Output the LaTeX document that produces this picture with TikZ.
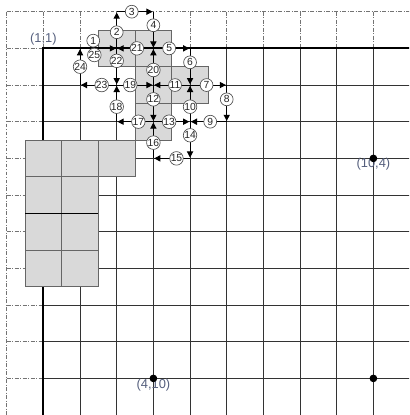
\documentclass[tikz,border=0pt]{standalone}
\usepackage{fontspec}
\setmainfont{Liberation Sans}
\usetikzlibrary{arrows.meta}
\definecolor{lbl}{RGB}{85,95,125}
\begin{document}
\begin{tikzpicture}[x=1cm,y=-1cm,
  dashdot/.style={draw=black!55, line width=0.6pt, dash pattern=on 3pt off 1.2pt on 0.8pt off 1.2pt},
  gline/.style={draw=black!80, line width=0.8pt},
  thickline/.style={draw=black, line width=1.6pt},
  cell/.style={fill=black!15, draw=black!60, line width=0.6pt},
  arr/.style={draw=black, line width=0.8pt, -{Triangle[length=4.8pt,width=4.8pt]}, shorten >=0.6pt},
  num/.style={circle, draw=black!70, fill=white, line width=0.5pt, inner sep=0pt, minimum size=0.35cm, font=\fontsize{8}{8}\selectfont, text=black!85},
  lab/.style={font=\fontsize{10}{12}\selectfont, text=lbl, inner sep=0pt},
  dot/.style={circle, fill=black, inner sep=0pt, minimum size=0.21cm}
]
\useasboundingbox (-0.1827,-0.319) rectangle (10.971,10.998);
\clip (-0.1827,-0.319) rectangle (10.971,10.998);

% label (1,1)
\node[lab] (l11) at (1,0.745) {(1,1)};

% upper gray cells
\foreach \i/\j in {3/1,4/1,4/2,5/2,4/3}
  \draw[cell] (\i-0.5,\j-0.5) rectangle +(1,1);

% grid
\draw[dashdot] (0,0) -- (11,0);
\draw[dashdot] (0,0) -- (0,11);
\foreach \k in {1,...,10} {
  \draw[dashdot] (\k,0) -- (\k,1);
  \draw[dashdot] (0,\k) -- (1,\k);
}
\foreach \k in {2,...,10} {
  \draw[gline] (\k,1) -- (\k,11);
  \draw[gline] (1,\k) -- (11,\k);
}
\draw[thickline, line join=miter] (11,1) -- (1,1) -- (1,11);

% lower gray cells
\foreach \i/\j in {1/4,2/4,3/4,1/5,2/5,1/6,2/6,1/7,2/7}
  \draw[cell] (\i-0.5,\j-0.5) rectangle +(1,1);
\draw[black, line width=1.1pt] (0.5,5.5) -- (2.5,5.5);

% grid points
\foreach \i in {2,...,6}
  \foreach \j in {0,...,4}
    \coordinate (p\i\j) at (\i,\j);

% arrows
\draw[arr] (p21) -- node[num,pos=.36,yshift=0.21cm]{1} node[num,pos=.39,yshift=-0.18cm]{25} (p31);
\draw[arr] (p31) -- node[num,pos=.44]{2} (p30);
\draw[arr] (p30) -- node[num,pos=.41]{3} (p40);
\draw[arr] (p40) -- node[num,pos=.37]{4} (p41);
\draw[arr] (p41) -- node[num,pos=.43]{5} (p51);
\draw[arr] (p51) -- node[num,pos=.38]{6} (p52);
\draw[arr] (p52) -- node[num,pos=.45]{7} (p62);
\draw[arr] (p62) -- node[num,pos=.39]{8} (p63);
\draw[arr] (p63) -- node[num,pos=.45]{9} (p53);
\draw[arr] (p53) -- node[num,pos=.41]{10} (p52);
\draw[arr] (p52) -- node[num,pos=.41]{11} (p42);
\draw[arr] (p42) -- node[num,pos=.39]{12} (p43);
\draw[arr] (p43) -- node[num,pos=.43]{13} (p53);
\draw[arr] (p53) -- node[num,pos=.37]{14} (p54);
\draw[arr] (p54) -- node[num,pos=.37]{15} (p44);
\draw[arr] (p44) -- node[num,pos=.43]{16} (p43);
\draw[arr] (p43) -- node[num,pos=.41]{17} (p33);
\draw[arr] (p33) -- node[num,pos=.41]{18} (p32);
\draw[arr] (p32) -- node[num,pos=.37]{19} (p42);
\draw[arr] (p42) -- node[num,pos=.41]{20} (p41);
\draw[arr] (p41) -- node[num,pos=.45]{21} (p31);
\draw[arr] (p31) -- node[num,pos=.34]{22} (p32);
\draw[arr] (p32) -- node[num,pos=.41]{23} (p22);
\draw[arr] (p22) -- node[num,pos=.5]{24} (p21);

% labelled points
\node[lab] (l104) at (10,4.16) {(10,4)};
\node[dot] (d104) at (10,4) {};
\node[lab] (l410) at (4,10.18) {(4,10)};
\node[dot] (d410) at (4,10) {};
\node[dot] (d1010) at (10,10) {};
\end{tikzpicture}
\end{document}
